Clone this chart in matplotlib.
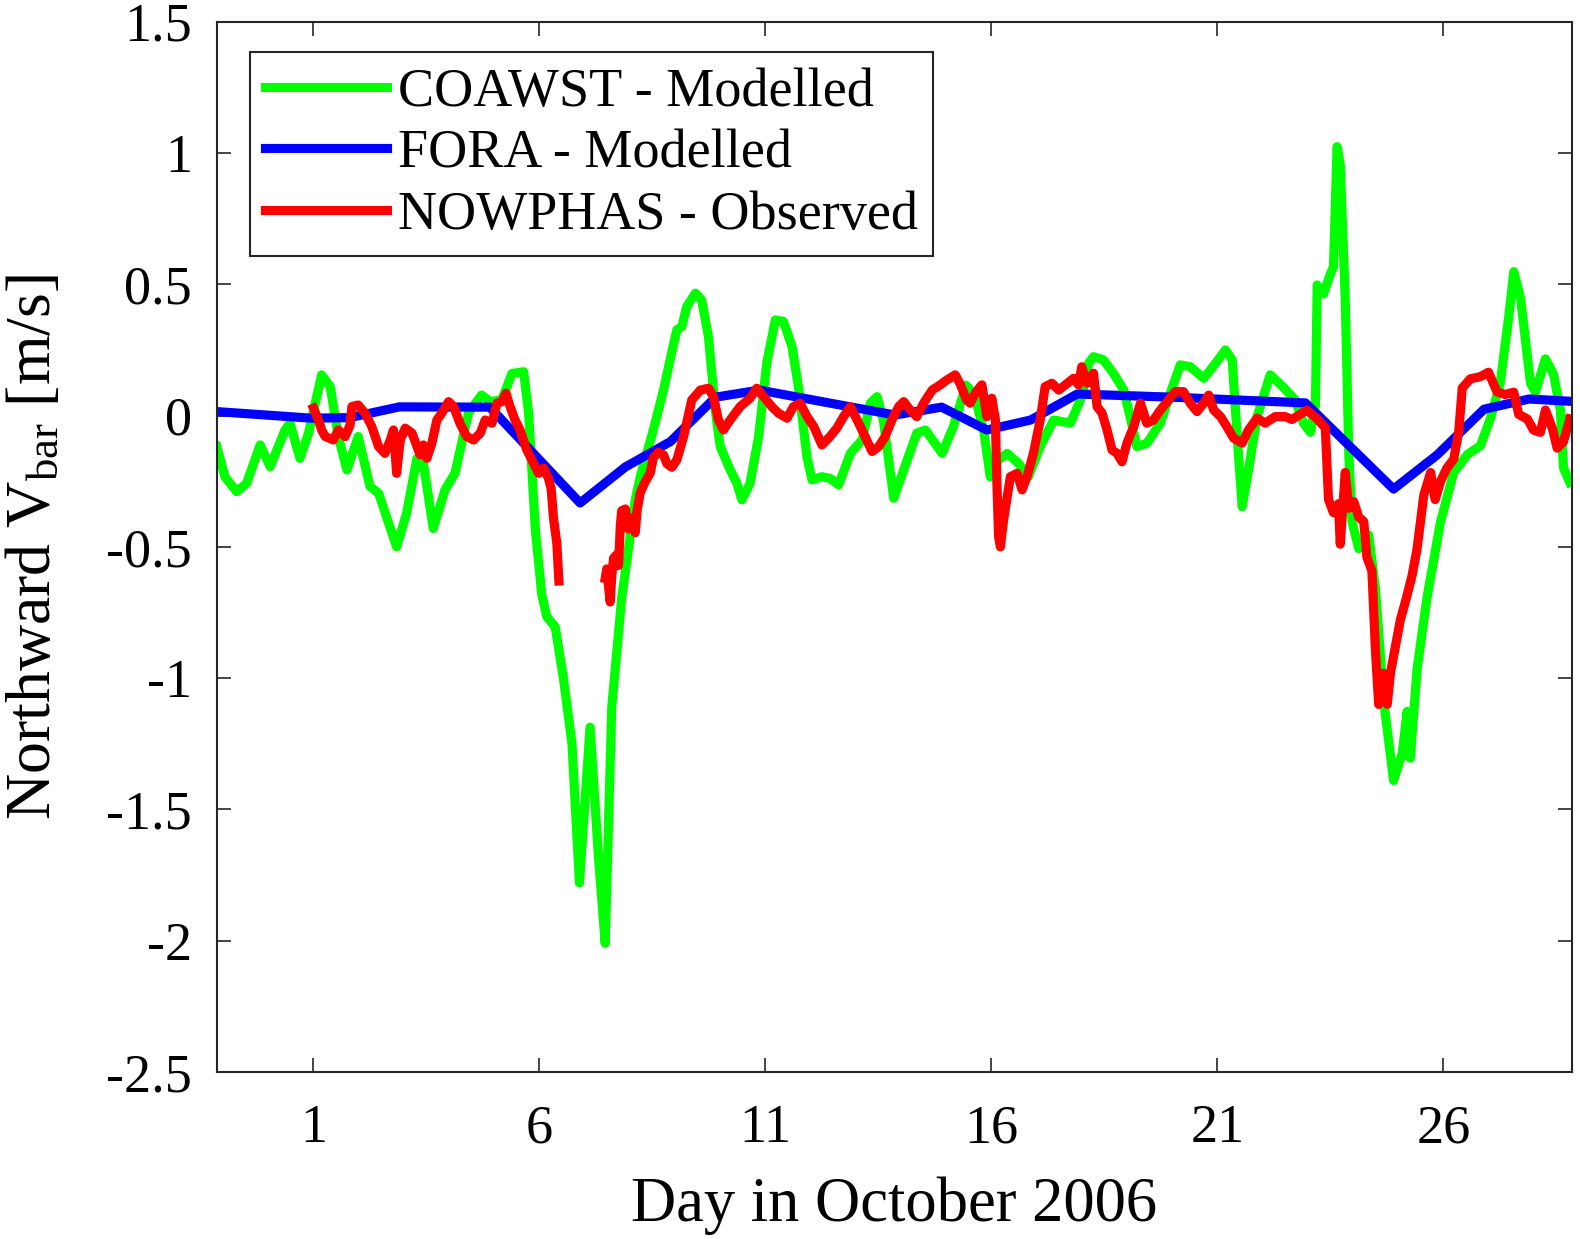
import matplotlib
matplotlib.use("Agg")
import matplotlib.pyplot as plt

plt.rcParams['font.family'] = ['Liberation Serif', 'DejaVu Serif']
plt.rcParams['mathtext.fontset'] = 'custom'
plt.rcParams['mathtext.rm'] = 'Liberation Serif'
plt.rcParams['mathtext.it'] = 'Liberation Serif:italic'

# COAWST - Modelled (day, m/s)
coawst_day = [-1.14, -0.96, -0.70, -0.48, -0.18, 0.04, 0.37, 0.48, 0.70, 0.89,
              1.18, 1.37, 1.55, 1.74, 1.99, 2.25, 2.44, 2.84, 3.06, 3.29,
              3.43, 3.65, 3.91, 4.13, 4.43, 4.72, 4.91, 5.17, 5.39, 5.65,
              5.76, 5.91, 6.05, 6.16, 6.35, 6.53, 6.72, 6.885, 7.12, 7.31,
              7.455, 7.60, 7.82, 8.12, 8.25, 8.52, 8.745, 8.93, 9.04, 9.15,
              9.26, 9.45, 9.59, 9.74, 9.89, 10.0, 10.22, 10.37, 10.48, 10.66,
              10.85, 11.03, 11.22, 11.40, 11.59, 11.73, 11.92, 12.03, 12.25, 12.43,
              12.62, 12.88, 13.14, 13.32, 13.47, 13.61, 13.84, 14.06, 14.35, 14.54,
              14.91, 15.16, 15.44, 15.62, 15.83, 15.975, 16.16, 16.35, 16.60, 16.82,
              17.08, 17.38, 17.75, 18.0, 18.15, 18.26, 18.48, 18.70, 18.93, 19.07,
              19.22, 19.44, 19.74, 19.96, 20.18, 20.40, 20.70, 20.96, 21.18, 21.33,
              21.44, 21.55, 21.69, 21.88, 22.17, 22.45, 22.72, 22.91, 23.06, 23.17,
              23.21, 23.35, 23.50, 23.57, 23.65, 23.72, 23.83, 23.91, 23.98, 24.13,
              24.35, 24.50, 24.68, 24.90, 25.09, 25.20, 25.27, 25.42, 25.64, 25.94,
              26.23, 26.53, 26.82, 27.04, 27.26, 27.45, 27.56, 27.71, 27.93, 28.04,
              28.26, 28.44, 28.59, 28.66, 28.80]
coawst_val = [-0.118, -0.233, -0.290, -0.258, -0.112, -0.195, -0.055, -0.030, -0.163, -0.067,
              0.155, 0.110, -0.080, -0.207, -0.080, -0.270, -0.296, -0.500, -0.372, -0.163,
              -0.180, -0.430, -0.283, -0.220, 0.010, 0.078, 0.053, 0.060, 0.160, 0.167,
              0.010, -0.436, -0.680, -0.765, -0.806, -1.000, -1.250, -1.780, -1.187, -1.690,
              -2.010, -1.110, -0.695, -0.320, -0.220, -0.055, 0.097, 0.243, 0.326, 0.339,
              0.415, 0.466, 0.440, 0.300, 0.021, -0.118, -0.207, -0.258, -0.321, -0.258,
              -0.080, 0.200, 0.364, 0.358, 0.262, 0.110, -0.157, -0.245, -0.233, -0.239,
              -0.264, -0.144, -0.093, 0.047, 0.072, -0.017, -0.315, -0.207, -0.067, -0.055,
              -0.144, -0.042, 0.115, 0.080, -0.055, -0.233, -0.169, -0.144, -0.182, -0.233,
              -0.118, -0.017, -0.029, 0.072, 0.199, 0.224, 0.212, 0.161, 0.097, -0.004,
              -0.118, -0.106, -0.029, 0.085, 0.193, 0.186, 0.142, 0.199, 0.250, 0.212,
              -0.080, -0.347, -0.207, -0.004, 0.155, 0.110, 0.060, -0.030, -0.064, 0.038,
              0.497, 0.463, 0.539, 0.565, 1.024, 0.956, 0.446, -0.149, -0.404, -0.507,
              -0.455, -0.660, -1.085, -1.390, -1.288, -1.127, -1.305, -0.965, -0.693, -0.404,
              -0.217, -0.149, -0.115, -0.013, 0.123, 0.378, 0.548, 0.446, 0.123, 0.089,
              0.216, 0.157, 0.021, -0.200, -0.255]

# FORA - Modelled
fora_day = [-1.14, 0.95, 1.8, 2.9, 4.9, 6.9, 7.9, 8.9, 9.9, 10.87, 12.85, 13.87,
            14.9, 15.9, 16.87, 17.9, 20.0, 22.95, 24.9, 25.87, 26.9, 27.9, 28.84]
fora_val = [0.015, -0.01, -0.008, 0.033, 0.032, -0.333, -0.196, -0.099, 0.07, 0.097, 0.034, 0.002,
            0.032, -0.055, -0.017, 0.082, 0.07, 0.048, -0.28, -0.149, 0.024, 0.063, 0.054]

# NOWPHAS - Observed (gap between the two segments)
obs1_day = [1.0, 1.11, 1.18, 1.26, 1.44, 1.55, 1.70, 1.81, 1.85, 1.99,
            2.14, 2.29, 2.44, 2.58, 2.70, 2.77, 2.84, 2.92, 3.03, 3.18,
            3.29, 3.36, 3.43, 3.51, 3.62, 3.73, 3.84, 3.99, 4.10, 4.24,
            4.39, 4.54, 4.69, 4.80, 4.95, 5.06, 5.17, 5.26, 5.35, 5.46,
            5.57, 5.72, 5.87, 5.98, 6.09, 6.20, 6.26, 6.31, 6.385, 6.43]
obs1_val = [0.028, -0.017, -0.055, -0.080, -0.093, -0.055, -0.080, -0.036, 0.034, 0.040,
            0.009, -0.042, -0.118, -0.144, -0.093, -0.055, -0.220, -0.093, -0.048, -0.067,
            -0.118, -0.150, -0.112, -0.163, -0.105, -0.017, 0.009, 0.053, 0.034, -0.029,
            -0.080, -0.093, -0.067, -0.017, -0.029, 0.047, 0.053, 0.085, 0.034, -0.017,
            -0.055, -0.131, -0.182, -0.220, -0.200, -0.239, -0.280, -0.390, -0.487, -0.630]

obs2_day = [7.455, 7.49, 7.565, 7.60, 7.64, 7.71, 7.75, 7.79, 7.82, 7.90,
            7.97, 8.05, 8.12, 8.16, 8.23, 8.34, 8.45, 8.52, 8.63, 8.745,
            8.82, 8.93, 9.04, 9.19, 9.37, 9.56, 9.74, 9.85, 9.96, 10.07,
            10.22, 10.44, 10.66, 10.81, 10.96, 11.14, 11.29, 11.48, 11.62, 11.77,
            11.92, 12.07, 12.25, 12.43, 12.58, 12.73, 12.88, 13.03, 13.17, 13.36,
            13.51, 13.65, 13.80, 13.95, 14.06, 14.17, 14.35, 14.50, 14.69, 14.87,
            15.02, 15.20, 15.31, 15.45, 15.53, 15.66, 15.79, 15.90, 16.01, 16.09,
            16.12, 16.16, 16.20, 16.27, 16.35, 16.42, 16.57, 16.68, 16.79, 16.93,
            17.08, 17.19, 17.34, 17.49, 17.64, 17.82, 17.93, 18.0, 18.12, 18.26,
            18.34, 18.45, 18.56, 18.67, 18.78, 18.89, 19.00, 19.15, 19.30, 19.44,
            19.59, 19.74, 19.92, 20.07, 20.25, 20.40, 20.55, 20.70, 20.81, 20.92,
            21.07, 21.21, 21.36, 21.55, 21.69, 21.88, 22.06, 22.28, 22.50, 22.65,
            22.83, 22.98, 23.21, 23.39, 23.46, 23.57, 23.68, 23.72, 23.83, 23.91,
            24.02, 24.13, 24.24, 24.31, 24.42, 24.50, 24.57, 24.68, 24.76, 24.83,
            24.94, 25.05, 25.16, 25.31, 25.42, 25.57, 25.72, 25.82, 25.94, 26.08,
            26.23, 26.34, 26.42, 26.60, 26.82, 27.0, 27.19, 27.37, 27.56, 27.67,
            27.86, 28.0, 28.15, 28.26, 28.41, 28.52, 28.66, 28.80]
obs2_val = [-0.620, -0.584, -0.710, -0.612, -0.543, -0.530, -0.571, -0.418, -0.363, -0.356,
            -0.432, -0.390, -0.446, -0.363, -0.294, -0.252, -0.220, -0.160, -0.140, -0.150,
            -0.183, -0.197, -0.169, -0.080, 0.059, 0.097, 0.104, 0.072, -0.017, -0.055,
            -0.017, 0.034, 0.066, 0.104, 0.072, 0.034, 0.009, -0.010, 0.034, 0.047,
            -0.004, -0.042, -0.112, -0.080, -0.048, -0.004, 0.034, -0.017, -0.067, -0.137,
            -0.118, -0.080, -0.017, 0.034, 0.053, 0.028, -0.004, 0.047, 0.097, 0.117,
            0.136, 0.155, 0.120, 0.060, 0.047, 0.090, 0.117, -0.004, 0.066, -0.017,
            -0.245, -0.461, -0.500, -0.398, -0.309, -0.233, -0.220, -0.283, -0.233, -0.144,
            -0.017, 0.110, 0.123, 0.097, 0.117, 0.142, 0.117, 0.186, 0.123, 0.161,
            0.034, 0.009, -0.055, -0.131, -0.144, -0.176, -0.105, -0.042, 0.047, -0.029,
            -0.017, 0.021, 0.059, 0.091, 0.091, 0.047, 0.015, 0.047, 0.078, 0.021,
            -0.004, -0.042, -0.086, -0.105, -0.055, -0.010, -0.029, -0.004, -0.004, -0.015,
            0.004, 0.021, -0.013, -0.047, -0.320, -0.370, -0.336, -0.490, -0.217, -0.353,
            -0.328, -0.387, -0.404, -0.540, -0.591, -0.898, -1.100, -0.982, -1.100, -0.982,
            -0.880, -0.778, -0.710, -0.609, -0.507, -0.302, -0.217, -0.320, -0.251, -0.200,
            -0.166, -0.064, 0.105, 0.140, 0.148, 0.165, 0.090, 0.080, 0.089, 0.004,
            -0.013, -0.056, -0.064, 0.021, -0.047, -0.124, -0.099, -0.013]

x_ticks = [1, 6, 11, 16, 21, 26]
y_ticks = [-2.5, -2, -1.5, -1, -0.5, 0, 0.5, 1, 1.5]
y_tick_labels = ['-2.5', '-2', '-1.5', '-1', '-0.5', '0', '0.5', '1', '1.5']

fig = plt.figure(figsize=(15.8, 12.39), dpi=100)
ax = fig.add_axes([0.1372, 0.1348, 0.8575, 0.8477])

lw = 6.6
ax.plot(coawst_day, coawst_val, color=(0, 1, 0), lw=lw, label='COAWST - Modelled')
ax.plot(fora_day, fora_val, color=(0, 0, 1), lw=lw, label='FORA - Modelled')
ax.plot(obs1_day, obs1_val, color=(1, 0, 0), lw=lw, label='NOWPHAS - Observed')
ax.plot(obs2_day, obs2_val, color=(1, 0, 0), lw=lw)

ax.set_xlim(-1.14, 28.84)
ax.set_ylim(-2.5, 1.5)
ax.set_xticks(x_ticks)
ax.set_xticklabels([str(t) for t in x_ticks])
ax.set_yticks(y_ticks)
ax.set_yticklabels(y_tick_labels)

ax.tick_params(direction='in', length=10, width=1.2, colors='#262626',
               labelsize=39, top=True, right=True)
ax.tick_params(axis='x', pad=23, labelcolor='black')
ax.tick_params(axis='y', pad=18, labelcolor='black')
for s in ax.spines.values():
    s.set_linewidth(1.5)
    s.set_color('#262626')

ax.set_xlabel('Day in October 2006', fontsize=45, labelpad=16)
ax.set_ylabel(r'Northward V$_{\mathrm{bar}}$ [m/s]', fontsize=46, labelpad=30)

leg = ax.legend(loc='upper left', bbox_to_anchor=(0.0246, 0.9708), borderaxespad=0,
                fontsize=39, handlelength=2.25, handletextpad=0.2, labelspacing=0.2,
                borderpad=0.28, fancybox=False, framealpha=1, edgecolor='#262626')
leg.get_frame().set_linewidth(1.5)

fig.savefig('out.png', dpi=100)
